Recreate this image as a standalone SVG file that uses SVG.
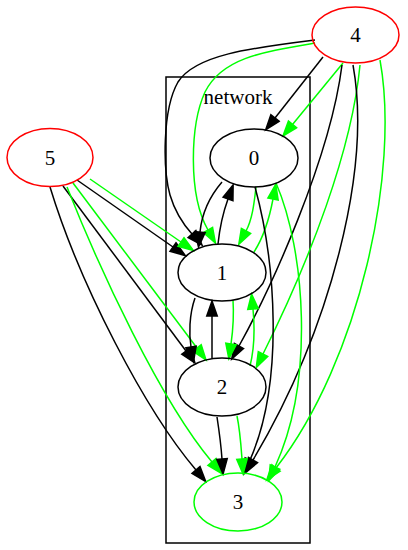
<svg xmlns="http://www.w3.org/2000/svg" width="408" height="550" viewBox="0 0 408 550">
<style>
text{font-family:"Liberation Serif","Times New Roman",serif;font-size:21px;text-anchor:middle;fill:#000}
.node{fill:none;stroke:#000;stroke-width:1.5}
.red{stroke:#ff0000}
.grn{stroke:#00ff00}
.cl{fill:none;stroke:#000;stroke-width:1.5}
.e{fill:none;stroke:#000;stroke-width:1.5;marker-end:url(#ab)}
.g{fill:none;stroke:#00ff00;stroke-width:1.5;marker-end:url(#ag)}
</style>
<defs>
<marker id="ab" markerUnits="userSpaceOnUse" markerWidth="18" markerHeight="14" refX="0" refY="7" orient="auto" overflow="visible">
<path d="M0,1.75 L15,7 L0,12.25 Z" fill="#000" stroke="#000" stroke-width="1.5"/>
</marker>
<marker id="ag" markerUnits="userSpaceOnUse" markerWidth="18" markerHeight="14" refX="0" refY="7" orient="auto" overflow="visible">
<path d="M0,1.75 L15,7 L0,12.25 Z" fill="#00ff00" stroke="#00ff00" stroke-width="1.5"/>
</marker>
</defs>
<g id="cluster_network">
<rect class="cl" x="166" y="77" width="144" height="466"/>
<text x="238" y="104">network</text>
</g>
<g id="edges">
<!-- 4 -> 0 -->
<path class="e" d="M323,57 L275,118"/>
<path class="g" d="M343,63 L292.5,124.4"/>
<!-- 4 -> 1 -->
<path class="e" d="M315,40 C250,48 195,55 178,82 C162,110 163,170 170,195 C175,212 183,224 192,234"/>
<path class="g" d="M315,43 C262,52 222,58 205,92 C190,125 188,195 208,230"/>
<!-- 4 -> 2 -->
<path class="e" d="M342,65 C330,160 270,290 239,346"/>
<path class="g" d="M360,65 C352,150 310,260 263,354"/>
<!-- 4 -> 3 -->
<path class="e" d="M353,65 C372,170 330,330 253,460"/>
<path class="g" d="M380,60 C400,170 360,360 276,468"/>
<!-- 5 -> 1 -->
<path class="e" d="M77,180 L173,247"/>
<path class="g" d="M90,179 L181,242"/>
<!-- 5 -> 2 -->
<path class="e" d="M63,186 L186,351"/>
<path class="g" d="M73,183 L197,348"/>
<!-- 5 -> 3 -->
<path class="e" d="M50,187 C80,285 145,410 196,470"/>
<path class="g" d="M67,187 C100,270 160,400 212,462"/>
<!-- 0 -> 1 -->
<path class="e" d="M222,182 C210,196 202,212 200,232"/>
<path class="g" d="M256,187 C254,205 252,220 246,231"/>
<!-- 1 -> 0 -->
<path class="e" d="M218,244 C220,225 224,210 228,199"/>
<path class="g" d="M254,252 C265,235 270,215 273,199"/>
<!-- 0 -> 3 -->
<path class="e" d="M255,187 C275,260 285,380 250,460"/>
<path class="g" d="M276,183 C305,250 315,380 275,467"/>
<!-- 1 -> 2 -->
<path class="e" d="M195,298 C189,315 189,335 191,347"/>
<path class="g" d="M233,300 C234,315 233,330 231,344"/>
<!-- 2 -> 1 -->
<path class="e" d="M212,358 L212,316"/>
<path class="g" d="M250,366 C254,350 255,330 253,309"/>
<!-- 2 -> 3 -->
<path class="e" d="M217,417 C219,430 221,445 222,459"/>
<path class="g" d="M237,416 C240,430 241,445 242,459"/>
</g>
<g id="node4">
<ellipse class="node red" cx="355.5" cy="35" rx="43.5" ry="28"/>
<text x="355.5" y="42">4</text>
</g>
<g id="node5">
<ellipse class="node red" cx="50" cy="157.5" rx="43" ry="29"/>
<text x="50" y="165">5</text>
</g>
<g id="node0">
<ellipse class="node" cx="254" cy="158" rx="44" ry="29"/>
<text x="254" y="165">0</text>
</g>
<g id="node1">
<ellipse class="node" cx="222" cy="272.5" rx="44" ry="28.5"/>
<text x="222" y="280">1</text>
</g>
<g id="node2">
<ellipse class="node" cx="222" cy="387" rx="44" ry="29"/>
<text x="222" y="394">2</text>
</g>
<g id="node3">
<ellipse class="node grn" cx="238" cy="502" rx="44" ry="29"/>
<text x="238" y="509">3</text>
</g>
</svg>
